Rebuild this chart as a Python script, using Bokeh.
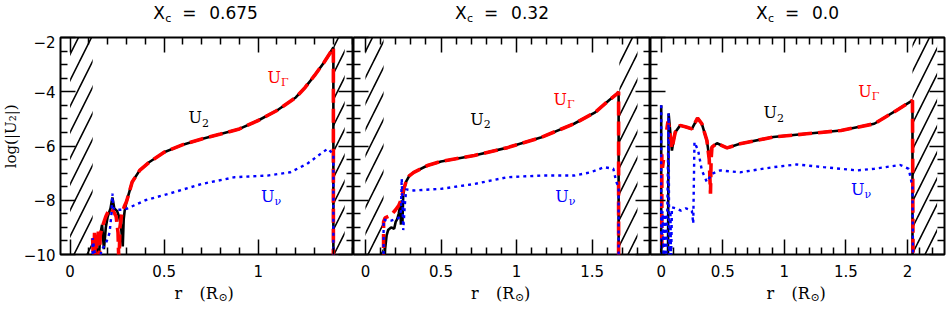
import numpy as np
from bokeh.plotting import figure
from bokeh.layouts import row, column
from bokeh.models import LinearAxis, Range1d, FixedTicker, Label, CustomJSTickFormatter
from bokeh.core.properties import value
from bokeh.embed import file_html
from bokeh.resources import INLINE

NAN = float("nan")

# ---------------- data ----------------
titles = ["0.675", "0.32", "0.0"]
x_ranges = [(-0.051, 1.507), (-0.079, 1.886), (-0.087, 2.30)]
y_limits = (-10, -2)
x_major = [[0, 0.5, 1], [0, 0.5, 1, 1.5], [0, 0.5, 1, 1.5, 2]]
y_major = [-10, -8, -6, -4, -2]

# hatched (excluded) regions in r
hatch_regions = [[(0.0, 0.12), (1.40, 1.46)],
                 [(0.0, 0.12), (1.68, 1.80)],
                 [(2.04, 2.24)]]

# Panel 1 (Xc = 0.675)
p1_r_u2 = [0.12, 0.125, 0.13, 0.14, 0.15, 0.16, 0.17, 0.18, 0.19, 0.20, 0.215, 0.225, 0.235, 0.25, 0.26, 0.27,
           0.28, 0.285, 0.29, 0.30, 0.33, 0.37, 0.42, 0.50, 0.60, 0.70, 0.80, 0.90, 1.00, 1.10, 1.20, 1.25,
           1.30, 1.35, 1.38, 1.40, 1.40]
p1_u2 = [-10.5, -9.5, -10.5, -9.6, -10.5, -9.3, -8.9, -9.8, -9.0, -8.6, -8.3, -7.9, -8.3, -8.4, -8.6, -8.9,
         -9.7, -8.7, -8.4, -8.05, -7.33, -6.90, -6.60, -6.23, -5.95, -5.74, -5.56, -5.37, -5.06, -4.69, -4.21, -3.84,
         -3.40, -2.92, -2.60, -2.37, -10.5]
p1_r_ug = [0.12, 0.125, 0.13, 0.135, 0.14, 0.15, 0.155, 0.16, 0.17, 0.19, 0.21, 0.23, 0.245, 0.255, 0.26, 0.265,
           0.275, 0.29, 0.30, 0.33, 0.37, 0.42, 0.50, 0.60, 0.70, 0.80, 0.90, 1.00, 1.10, 1.20, 1.25, 1.30, 1.35,
           1.38, 1.40, 1.40]
p1_ug = [-9.4, -10.5, -9.2, -10.5, -9.5, -9.1, -10.5, -9.3, -9.0, -8.6, -8.3, -8.4, -8.6, -9.2, -10.5, -9.0,
         -8.5, -8.2, -8.05, -7.33, -6.90, -6.60, -6.23, -5.95, -5.74, -5.56, -5.37, -5.06, -4.69, -4.21, -3.84, -3.40,
         -2.92, -2.60, -2.37, -10.5]
p1_r_uv = [0.12, 0.12, 0.13, 0.15, 0.17, 0.19, 0.21, 0.22, 0.225, 0.23, 0.24, 0.27, 0.30, 0.40, 0.525, 0.70,
           0.875, 1.05, 1.17, 1.26, 1.33, 1.37, 1.40, 1.40]
p1_uv = [-10.5, -9.4, -9.9, -10.3, -9.8, -9.6, -9.2, -8.5, -7.75, -8.3, -8.35, -8.35, -8.32, -8.0, -7.76, -7.40,
         -7.15, -7.09, -6.97, -6.66, -6.30, -6.10, -6.30, -10.5]

# Panel 2 (Xc = 0.32)
p2_r_u2 = [0.125, 0.13, 0.14, 0.15, 0.17, 0.19, 0.20, 0.21, 0.22, 0.23, 0.235, 0.24, 0.245, 0.25, 0.26, 0.27,
           0.29, 0.32, 0.41, 0.50, 0.72, 0.94, 1.16, 1.38, 1.52, 1.61, 1.67, 1.675, 1.675]
p2_u2 = [-10.5, -9.8, -9.3, -9.1, -9.0, -9.05, -8.8, -8.7, -8.5, -8.2, -8.9, -8.0, -8.8, -7.8, -7.5, -7.3,
         -7.1, -6.97, -6.72, -6.57, -6.35, -6.06, -5.69, -5.18, -4.76, -4.32, -4.05, -4.0, -10.5]
p2_r_ug = [0.12, 0.12, 0.13, 0.17, 0.20, 0.22, 0.235, 0.25, 0.27, 0.29, 0.32, 0.41, 0.50, 0.72, 0.94, 1.16,
           1.38, 1.52, 1.61, 1.67, 1.675, 1.675]
p2_ug = [-10.5, -8.8, -8.65, -8.55, -8.35, -8.2, -8.0, -7.64, -7.3, -7.1, -6.97, -6.72, -6.57, -6.35, -6.06, -5.69,
         -5.18, -4.76, -4.32, -4.05, -4.0, -10.5]
p2_r_uv = [0.12, 0.12, 0.14, 0.17, 0.20, 0.22, 0.235, 0.24, 0.245, 0.25, 0.26, 0.27, 0.32, 0.50, 0.72, 0.94,
           1.16, 1.38, 1.49, 1.58, 1.64, 1.66, 1.675, 1.675]
p2_uv = [-10.5, -8.7, -8.75, -8.75, -8.7, -8.65, -8.4, -7.2, -8.0, -9.1, -8.2, -7.6, -7.64, -7.58, -7.40, -7.15,
         -7.09, -7.09, -6.97, -6.78, -6.84, -7.33, -7.5, -10.5]

# Panel 3 (Xc = 0.0)
p3_r_u2 = [0.0, 0.0, NAN, 0.055, 0.06, 0.087, 0.10, 0.114, 0.154, 0.209, 0.249, 0.295, 0.33, 0.371, 0.39, 0.40,
           0.412, 0.453, 0.534, 0.64, 0.91, 1.18, 1.46, 1.73, 1.91, 2.04, 2.04]
p3_u2 = [-10.5, -4.5, NAN, -10.5, -4.8, -6.17, -5.8, -5.49, -5.24, -5.31, -5.37, -4.97, -5.18, -5.80, -6.41, -6.3,
         -6.04, -5.90, -6.07, -5.92, -5.67, -5.55, -5.43, -5.18, -4.69, -4.32, -10.5]
p3_r_ug = [0.005, 0.005, 0.02, 0.01, NAN, 0.045, 0.055, 0.065, 0.087, 0.10, 0.114, 0.154, 0.209, 0.249, 0.295,
           0.33, 0.371, 0.39, 0.40, 0.405, 0.412, 0.453, 0.534, 0.64, 0.91, 1.18, 1.46, 1.73, 1.91, 2.04, 2.045]
p3_ug = [-10.5, -6.3, -6.45, -6.8, NAN, -5.4, -5.1, -5.3, -6.1, -5.8, -5.49, -5.24, -5.31, -5.37, -4.97,
         -5.18, -5.80, -6.5, -7.76, -6.5, -6.04, -5.90, -6.07, -5.92, -5.67, -5.55, -5.43, -5.18, -4.69, -4.32, -10.5]
p3_r_uv = [0.0, 0.0, 0.01, 0.02, 0.03, 0.04, 0.05, 0.06, 0.065, 0.075, 0.08, 0.087, 0.12, 0.16, 0.20, 0.249,
           0.26, 0.27, 0.30, 0.33, 0.371, 0.41, 0.48, 0.64, 0.91, 1.10, 1.32, 1.59, 1.73, 1.94, 2.01, 2.04, 2.045]
p3_uv = [-4.5, -10.5, -8.4, -10.3, -8.5, -10.3, -8.3, -4.8, -10.3, -8.4, -10.3, -8.26, -8.3, -8.38, -8.3, -8.38,
         -8.86, -5.86, -6.17, -6.9, -7.33, -7.03, -6.9, -6.97, -6.78, -6.68, -6.78, -6.90, -6.84, -6.70, -6.84,
         -7.52, -10.5]

series = [
    (p1_r_u2, p1_u2, p1_r_ug, p1_ug, p1_r_uv, p1_uv),
    (p2_r_u2, p2_u2, p2_r_ug, p2_ug, p2_r_uv, p2_uv),
    (p3_r_u2, p3_u2, p3_r_ug, p3_ug, p3_r_uv, p3_uv),
]

# curve-name label anchors (r, log U) for U2, UGamma, Unu
label_pos = [
    [(0.63, -4.95), (1.05, -3.49), (1.015, -7.86)],
    [(0.694, -5.02), (1.245, -4.29), (1.256, -7.88)],
    [(0.83, -4.78), (1.60, -3.99), (1.54, -7.59)],
]
label_sub = ["2", "\u0393", "\u03bd"]
label_col = ["black", "red", "blue"]
y_title = "log(|U\u2082|)"

# ---------------- layout ----------------
TOTAL_W = 950
TITLE_H = 35
FRAME_H = 217
MAIN_TOP = 2
MAIN_BOTTOM = 29
MAIN_H = MAIN_TOP + FRAME_H + MAIN_BOTTOM
XLAB_H = 310 - TITLE_H - MAIN_H
YLAB_W = 20
LEFT = 57 - YLAB_W
RIGHT = 6
FRAME_W = [296, 297, 294]
SANS = "DejaVu Sans"
SERIF = "DejaVu Serif"

fmt_js = "return tick < 0 ? '\u2212' + Math.abs(tick).toString() : tick.toString();"


def mk_axis(ticks, minors, labeled, standoff=8):
    ax = LinearAxis(ticker=FixedTicker(ticks=ticks, minor_ticks=minors))
    ax.major_tick_in = 15
    ax.major_tick_out = 0
    ax.minor_tick_in = 7
    ax.minor_tick_out = 0
    ax.major_tick_line_width = 1.5
    ax.minor_tick_line_width = 1.5
    ax.major_tick_line_color = "black"
    ax.minor_tick_line_color = "black"
    ax.axis_line_color = None
    if labeled:
        ax.formatter = CustomJSTickFormatter(code=fmt_js)
        ax.major_label_text_font = SANS
        ax.major_label_text_font_size = "15px"
        ax.major_label_text_color = "black"
        ax.major_label_standoff = standoff
    else:
        ax.formatter = CustomJSTickFormatter(code="return '';")
        ax.major_label_text_font_size = "0px"
        ax.major_label_standoff = 0
    return ax


def strip(width, height):
    s = figure(width=width, height=height, x_range=Range1d(0, width), y_range=Range1d(0, height),
               output_backend="svg", toolbar_location=None, x_axis_location=None, y_axis_location=None,
               min_border=0)
    s.grid.visible = False
    s.outline_line_color = None
    s.background_fill_color = "white"
    s.border_fill_color = "white"
    return s


panels = []
centers = []
x0 = YLAB_W
for k in range(3):
    first = k == 0
    last = k == 2
    xr = x_ranges[k]
    bl = LEFT if first else 0
    br = RIGHT if last else 0
    w = FRAME_W[k] + bl + br
    centers.append(x0 + bl + FRAME_W[k] / 2)
    x0 += w
    p = figure(width=w, height=MAIN_H, x_range=Range1d(*xr),
               y_range=Range1d(*y_limits), output_backend="svg", toolbar_location=None,
               x_axis_location=None, y_axis_location=None,
               min_border_left=bl, min_border_right=br,
               min_border_top=MAIN_TOP, min_border_bottom=MAIN_BOTTOM)
    p.grid.visible = False
    p.outline_line_color = "black"
    p.outline_line_width = 2
    p.background_fill_color = "white"
    p.border_fill_color = "white"

    xmin_t = [round(v, 2) for v in np.arange(0.0, xr[1], 0.1) if all(abs(v - m) > 1e-6 for m in x_major[k])]
    ymin_t = [v for v in np.arange(-10, -2, 0.5) if v not in y_major]

    p.add_layout(mk_axis(x_major[k], xmin_t, True, standoff=10), "below")
    p.add_layout(mk_axis(x_major[k], xmin_t, False), "above")
    p.add_layout(mk_axis(y_major, ymin_t, first, standoff=5), "left")
    p.add_layout(mk_axis(y_major, ymin_t, False), "right")

    # hatched regions
    hl = [a for a, b in hatch_regions[k]]
    hr = [b for a, b in hatch_regions[k]]
    p.quad(left=hl, right=hr, bottom=[y_limits[0]] * len(hl), top=[y_limits[1]] * len(hl),
           fill_alpha=0, line_color=None, hatch_pattern="/", hatch_color="black",
           hatch_weight=1.6, hatch_scale=26)

    r_u2, u2, r_ug, ug, r_uv, uv = series[k]
    p.line(np.array(r_u2), np.array(u2), line_color="black", line_width=2.6)
    p.line(np.array(r_ug), np.array(ug), line_color="red", line_width=3.6, line_dash="14 6")
    p.line(np.array(r_uv), np.array(uv), line_color="blue", line_width=2.4, line_dash="3 4")

    # curve names
    for (lx, ly), sub, col in zip(label_pos[k], label_sub, label_col):
        p.add_layout(Label(x=lx, y=ly, text="U", text_color=col, text_font=SERIF,
                           text_font_size="16px", text_baseline="middle", text_align="left"))
        p.add_layout(Label(x=lx, y=ly, x_offset=13.5, y_offset=-5, text=sub, text_color=col,
                           text_font=SERIF, text_font_size="11px", text_baseline="middle",
                           text_align="left"))
    panels.append(p)

# ---- y-label strip ----
ys = strip(YLAB_W, MAIN_H)
ys.text(x=[YLAB_W / 2], y=[MAIN_H - (148 - TITLE_H)], text=[y_title], angle=np.pi / 2,
        text_font_size="15px", text_font=value(SERIF), text_color="black",
        text_baseline="middle", text_align="center")

# ---- title strip: X_c = value ----
ts = strip(TOTAL_W, TITLE_H)
tx, ty, tt, tsz = [], [], [], []
for k in range(3):
    vw = sum(10.8 if ch.isdigit() else 5.4 for ch in titles[k])
    start = centers[k] - (56 + vw) / 2
    tx += [start, start + 12, start + 29, start + 56]
    ty += [TITLE_H - 12, TITLE_H - 17.5, TITLE_H - 12, TITLE_H - 12]
    tt += ["X", "c", "=", titles[k]]
    tsz += ["17px", "11px", "17px", "17px"]
ts.text(x=tx, y=ty, text=tt, text_font_size=tsz, text_font=value(SANS), text_color="black",
        text_baseline="middle", text_align="left")

# ---- x-label strip: r (R_sun) ----
xs = strip(TOTAL_W, XLAB_H)
lx, ly, lt, lsz = [], [], [], []
for k in range(3):
    c = centers[k]
    lx += [c - 31, c - 6, c + 13, c + 22]
    ly += [XLAB_H - 9.5, XLAB_H - 9.5, XLAB_H - 13.5, XLAB_H - 9.5]
    lt += ["r", "(R", "\u2299", ")"]
    lsz += ["16px", "16px", "11px", "16px"]
xs.text(x=lx, y=ly, text=lt, text_font_size=lsz, text_font=value(SERIF), text_color="black",
        text_baseline="middle", text_align="left")

layout = column(ts, row(ys, *panels, spacing=0), xs, spacing=0)
open("out.html", "w", encoding="utf-8").write(file_html(layout, INLINE))
